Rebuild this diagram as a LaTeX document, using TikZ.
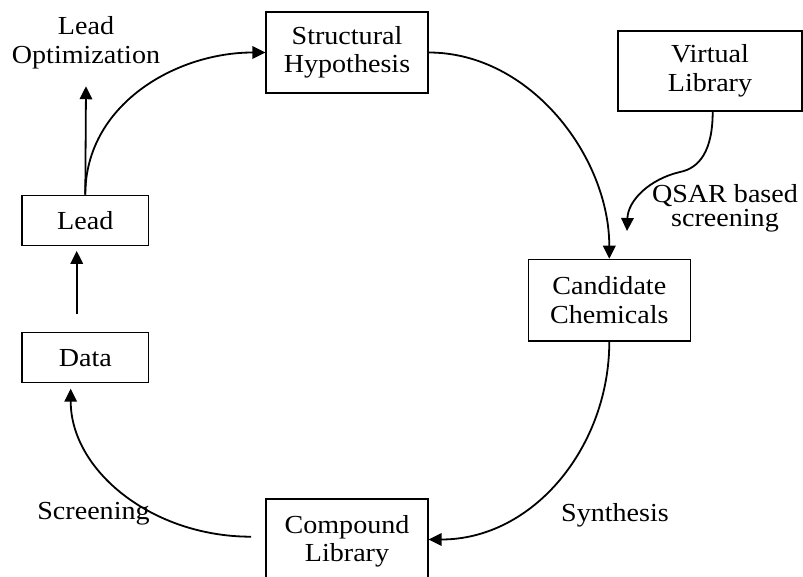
\documentclass[tikz,border=0pt]{standalone}
\usepackage{fontspec}
\setmainfont{Liberation Serif}[FakeStretch=1.08]
\usetikzlibrary{arrows.meta}
\begin{document}
\begin{tikzpicture}[x=1pt,y=-1pt,
  every node/.style={font=\fontsize{26}{28.5}\selectfont, inner sep=0pt, align=center},
  box/.style={draw, line width=1.3pt, minimum width=162pt, minimum height=81pt},
  smallbox/.style={draw, line width=1.3pt, minimum width=126.7pt, minimum height=50pt},
  arr/.style={line width=1.8pt, -{Triangle[length=13pt,width=12.5pt]}},
  lbl/.style={anchor=base}]
\useasboundingbox (0,0) rectangle (803,577);

\node[box] (struct) at (347,52.5) {Structural\\Hypothesis};
\node[box, minimum width=184pt, minimum height=80pt] (vl) at (710,71) {Virtual\\Library};
\node[smallbox] (lead) at (85.3,220.2) {Lead};
\node[smallbox] (data) at (85.3,357.7) {Data};
\node[box, minimum height=81.7pt] (cand) at (609.3,300.2) {Candidate\\Chemicals};
\node[box, minimum height=85pt] (comp) at (347,541.5) {Compound\\Library};

\node (leadopt) at (86,43) {Lead\\Optimization};
\node[font=\fontsize{26}{24}\selectfont] (qsar) at (725,208.6) {QSAR based\\screening};
\node[lbl] (synth) at (615,521.7) {Synthesis};
\node[lbl] (screen) at (93.5,519) {Screening};

\coordinate (qtip) at (627,231);

\draw[arr] (lead.north) -- ([yshift=-17pt]leadopt.south);
\draw[arr] (lead.north) to[out=90,in=180] (struct.west);
\draw[arr] (struct.east) to[out=0,in=90,looseness=0.95] (cand.north);
\draw[arr] (cand.south) to[out=-90,in=0] ([yshift=2pt]comp.east);
\draw[arr] ([xshift=-14.3pt,yshift=4.8pt]comp.west) .. controls +(-99,0) and +(0,82) .. ([xshift=-14.6pt,yshift=-5.3pt]data.south);
\draw[arr] ([xshift=-8.6pt,yshift=18pt]data.north) -- ([xshift=-8.6pt,yshift=-5pt]lead.south);
\draw[arr] ([xshift=2.7pt]vl.south) .. controls (712.7,150) and (700,168) .. (680,172)
  .. controls (650,179) and (628,200) .. (qtip);
\end{tikzpicture}
\end{document}
